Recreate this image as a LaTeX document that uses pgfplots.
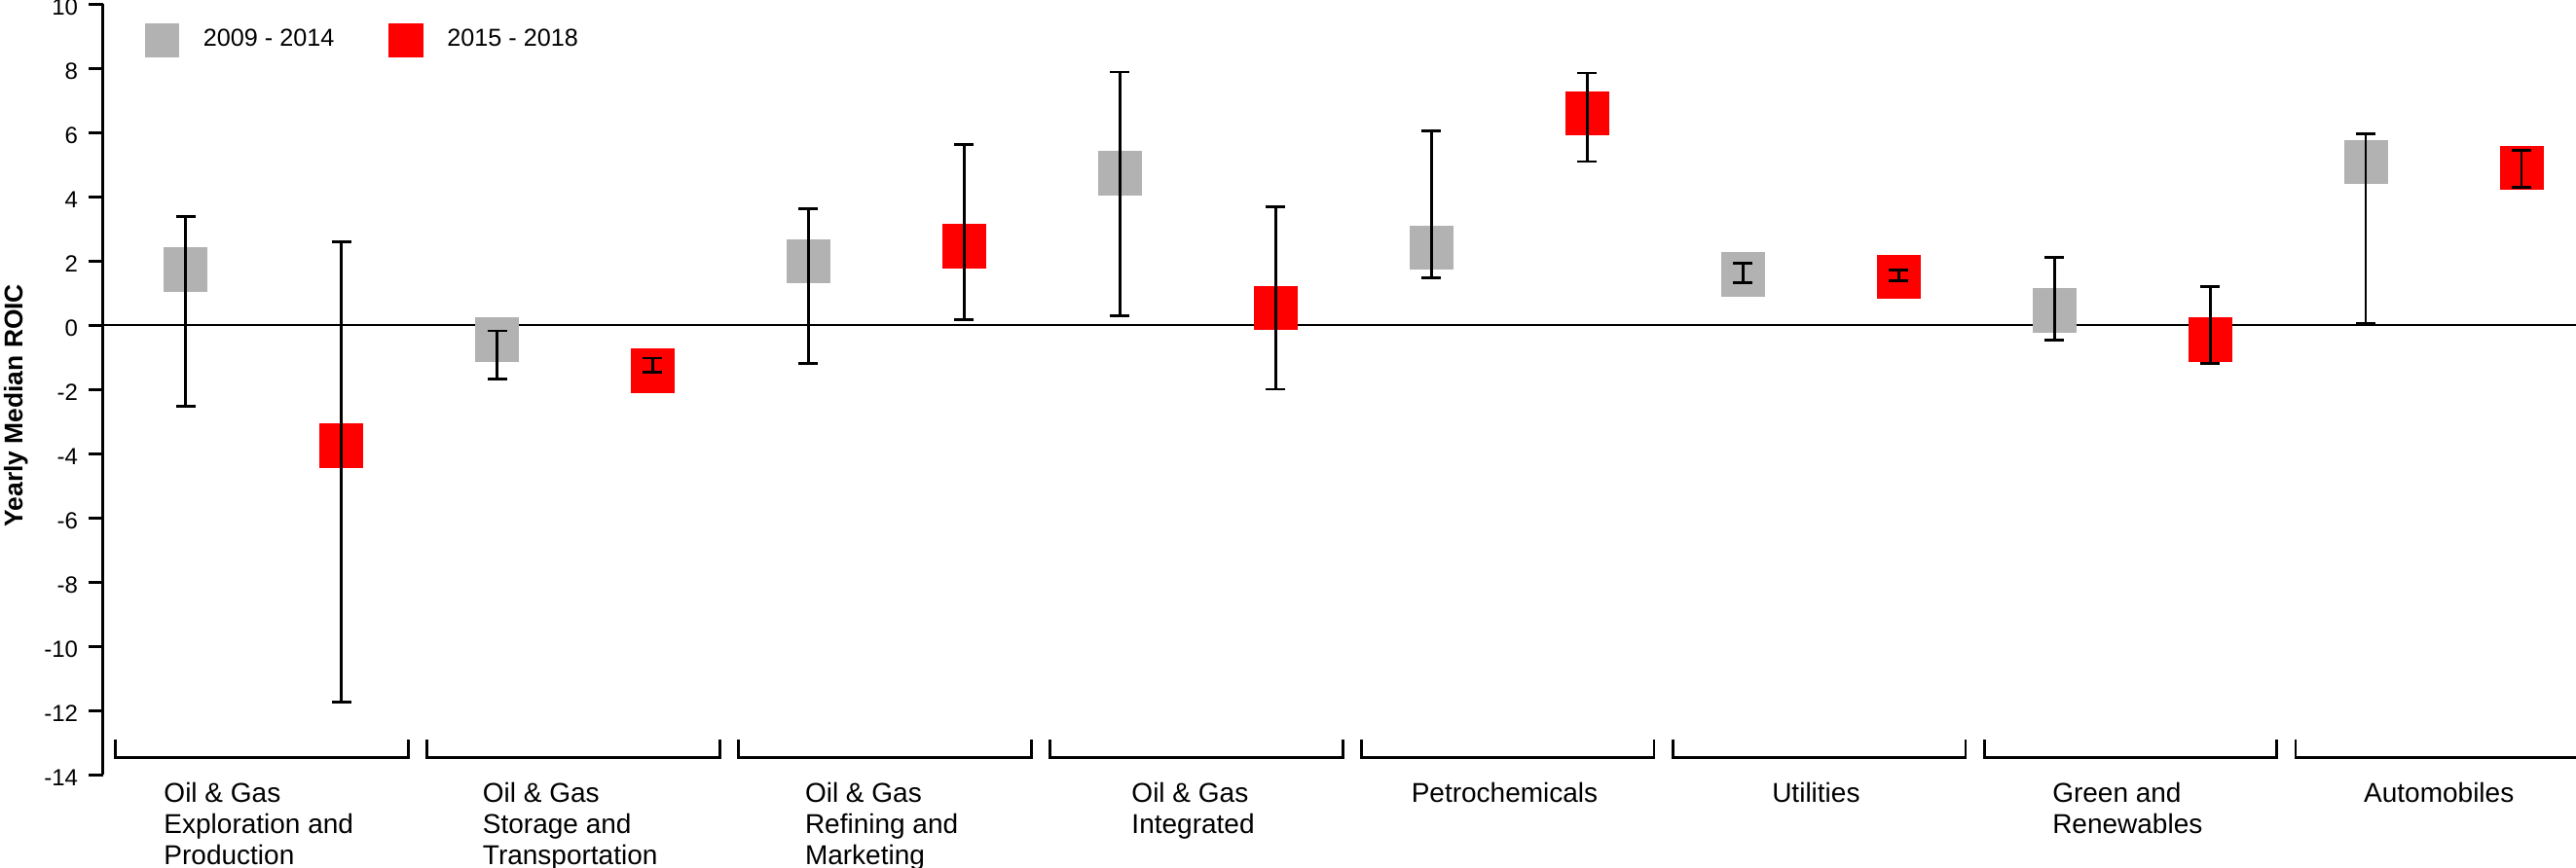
\documentclass[border=0pt]{standalone}
\usepackage{fontspec}
\setmainfont{Liberation Sans}
\usepackage{pgfplots}
\pgfplotsset{compat=1.18}
\definecolor{gr}{HTML}{B2B2B2}
\definecolor{rd}{HTML}{FF0000}

\pgfplotsset{
  boxbar/.style={forget plot, draw=none, mark=none,
    error bars/.cd, y dir=both, y fixed=0.69, error mark=none,
    error bar style={draw=#1, line width=11.25pt}},
  whisker/.style={forget plot, draw=none, mark=none,
    error bars/.cd, y dir=both, y explicit,
    error bar style={draw=black, line width=0.7pt},
    error mark options={rotate=90, mark size=2.5pt, line width=0.7pt, draw=black}},
}

\begin{document}
\begin{tikzpicture}
\begin{axis}[
  at={(0,0)}, anchor=south west,
  scale only axis,
  width=635pt, height=198pt,
  xmin=-0.53, xmax=15.35,
  ymin=-14, ymax=10,
  ytick={-14,-12,-10,-8,-6,-4,-2,0,2,4,6,8,10},
  yticklabels={-14,-12,-10,-8,-6,-4,-2,0,2,4,6,8,\raisebox{-1.6pt}{10}},
  axis y line*=left, axis x line*=bottom,
  x axis line style={draw=none},
  y axis line style={-, line width=0.75pt},
  tick align=outside,
  major tick length=3.75pt,
  every tick/.style={black, line width=0.75pt},
  major x tick style={draw=none},
  xtick={0.47,2.47,4.47,6.47,8.47,10.47,12.47,14.47},
  xticklabels={{Oil \& Gas\\Exploration and\\Production},
               {Oil \& Gas\\Storage and\\Transportation},
               {Oil \& Gas\\Refining and\\Marketing},
               {Oil \& Gas\\Integrated},
               {Petrochemicals},
               {Utilities},
               {Green and\\Renewables},
               {Automobiles}},
  xticklabel style={align=left, anchor=north, inner sep=0pt, font=\fontsize{7}{8}\selectfont, yshift=1.8pt},
  yticklabel style={font=\fontsize{6}{7}\selectfont, inner sep=0pt, xshift=-2.5pt, yshift=-0.8pt},
  ylabel={Yearly Median ROIC},
  ylabel style={at={(axis description cs:-0.0326,0.479)}, anchor=base, font=\bfseries\fontsize{6.6}{8}\selectfont},
  clip=false,
  legend columns=2,
  legend style={at={(axis cs:-0.266,8.86)}, anchor=west, draw=none, fill=none, inner sep=0pt,
    font=\fontsize{6.3}{7}\selectfont,
    /tikz/every odd column/.append style={column sep=4.2pt},
    /tikz/every even column/.append style={column sep=12pt}},
  legend image code/.code={\fill[#1,draw=none] (0pt,-4.4pt) rectangle (8.8pt,4.4pt);},
]
\draw[line width=0.6pt] (axis cs:-0.53,0) -- (axis cs:15.35,0);

\draw[line width=0.7pt] (axis cs:-0.45,-12.9) -- (axis cs:-0.45,-13.47) -- (axis cs:1.43,-13.47) -- (axis cs:1.43,-12.9);
\draw[line width=0.7pt] (axis cs:1.55,-12.9) -- (axis cs:1.55,-13.47) -- (axis cs:3.43,-13.47) -- (axis cs:3.43,-12.9);
\draw[line width=0.7pt] (axis cs:3.55,-12.9) -- (axis cs:3.55,-13.47) -- (axis cs:5.43,-13.47) -- (axis cs:5.43,-12.9);
\draw[line width=0.7pt] (axis cs:5.55,-12.9) -- (axis cs:5.55,-13.47) -- (axis cs:7.43,-13.47) -- (axis cs:7.43,-12.9);
\draw[line width=0.7pt] (axis cs:7.55,-12.9) -- (axis cs:7.55,-13.47) -- (axis cs:9.43,-13.47) -- (axis cs:9.43,-12.9);
\draw[line width=0.7pt] (axis cs:9.55,-12.9) -- (axis cs:9.55,-13.47) -- (axis cs:11.43,-13.47) -- (axis cs:11.43,-12.9);
\draw[line width=0.7pt] (axis cs:11.55,-12.9) -- (axis cs:11.55,-13.47) -- (axis cs:13.43,-13.47) -- (axis cs:13.43,-12.9);
\draw[line width=0.7pt] (axis cs:13.55,-12.9) -- (axis cs:13.55,-13.47) -- (axis cs:15.43,-13.47) -- (axis cs:15.43,-12.9);

\addlegendimage{color=gr}
\addlegendentry{2009 - 2014}
\addlegendimage{color=rd}
\addlegendentry{2015 - 2018}

% 2009 - 2014 medians (boxes)
\addplot[boxbar=gr]
  coordinates {(0,1.73) (2,-0.45) (4,1.98) (6,4.73) (8,2.41) (10,1.58) (12,0.46) (14,5.08)};
% 2015 - 2018 medians (boxes)
\addplot[boxbar=rd]
  coordinates {(1,-3.75) (3,-1.42) (5,2.45) (7,0.53) (9,6.59) (11,1.50) (13,-0.45) (15,4.89)};

% ranges (whiskers)
\addplot[whisker]
  coordinates {
  (0,1.73) += (0,1.64) -= (0,4.25)
  (2,-0.45) += (0,0.27) -= (0,1.24)
  (4,1.98) += (0,1.63) -= (0,3.18)
  (6,4.73) += (0,3.15) -= (0,4.45)
  (8,2.41) += (0,3.63) -= (0,0.93)
  (10,1.58) += (0,0.35) -= (0,0.27)
  (12,0.46) += (0,1.64) -= (0,0.92)
  (14,5.08) += (0,0.88) -= (0,5.03)
  };
\addplot[whisker]
  coordinates {
  (1,-3.75) += (0,6.33) -= (0,7.98)
  (3,-1.42) += (0,0.39) -= (0,0.04)
  (5,2.45) += (0,3.18) -= (0,2.28)
  (7,0.53) += (0,3.15) -= (0,2.53)
  (9,6.59) += (0,1.26) -= (0,1.50)
  (11,1.50) += (0,0.22) -= (0,0.11)
  (13,-0.45) += (0,1.65) -= (0,0.74)
  (15,4.89) += (0,0.55) -= (0,0.60)
  };
\end{axis}
\pgfresetboundingbox
\useasboundingbox (-26.45pt,-23.75pt) rectangle (635pt,199pt);
\end{tikzpicture}
\end{document}
